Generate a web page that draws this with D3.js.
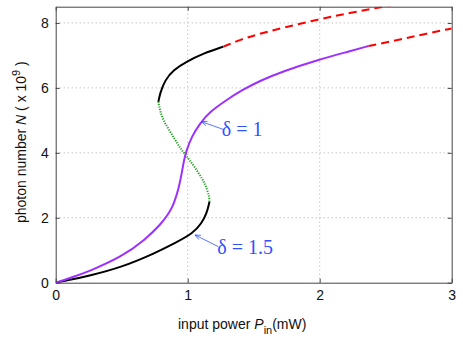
<!DOCTYPE html>
<html>
<head>
<meta charset="utf-8">
<script src="https://cdn.jsdelivr.net/npm/d3@7"></script>
<style>
  body { margin: 0; background: #fff; }
</style>
</head>
<body>
<div id="chart"></div>
<script>
// delta = 1.5 : stable low branch, unstable middle branch, stable high branch
// (every segment listed with N rising)
const lowP15 = [0, 0.1, 0.247, 0.5, 0.752, 0.904, 1.04, 1.106, 1.144, 1.161, 1.165];
const lowN15 = [0, 0.08, 0.207, 0.475, 0.91, 1.22, 1.52, 1.83, 2.14, 2.42, 2.5];
const midP15 = [1.165, 1.164, 1.14, 1.118, 1.043, 0.99, 0.942, 0.905, 0.86, 0.815, 0.79, 0.778];
const midN15 = [2.5, 2.65, 2.95, 3.16, 3.62, 3.9, 4.15, 4.40, 4.70, 5.0, 5.3, 5.57];
const highP15 = [0.778, 0.79, 0.828, 0.891, 0.992, 1.118, 1.27];
const highN15 = [5.57, 5.83, 6.24, 6.55, 6.81, 7.06, 7.27];
const dashP15 = [1.27, 1.396, 1.52, 1.72, 1.99, 2.23, 2.51, 2.62];
const dashN15 = [7.27, 7.48, 7.64, 7.85, 8.11, 8.31, 8.52, 8.6];

// delta = 1 : single valued
const solidP1 = [0, 0.1, 0.247, 0.5, 0.677, 0.803, 0.853, 0.88, 0.904, 0.929, 0.955, 0.972,
                 0.992, 1.03, 1.093, 1.169, 1.295, 1.41, 1.548, 1.72, 1.99, 2.23, 2.37];
const solidN1 = [0, 0.13, 0.34, 0.80, 1.32, 1.83, 2.12, 2.30, 2.55, 2.86, 3.37, 3.78,
                 4.09, 4.50, 4.91, 5.27, 5.63, 5.93, 6.22, 6.51, 6.87, 7.13, 7.29];
const dashP1 = [2.37, 2.61, 2.785, 3.0];
const dashN1 = [7.29, 7.49, 7.65, 7.83];

const xTicks = [0, 1, 2, 3];
const yTicks = [0, 2, 4, 6, 8];

const width = 463, height = 340;
const margin = { top: 6.7, right: 11.3, bottom: 57.3, left: 55.7 };
const sans = '"Liberation Sans", Arial, sans-serif';
const serif = '"Liberation Serif", "Times New Roman", serif';

const x = d3.scaleLinear().domain([0, 3]).range([margin.left, width - margin.right]);
const y = d3.scaleLinear().domain([0, 8.5]).range([height - margin.bottom, margin.top]);

const svg = d3.select('#chart').append('svg')
  .attr('width', width)
  .attr('height', height);

svg.append('defs').append('clipPath').attr('id', 'clip')
  .append('rect')
  .attr('x', margin.left).attr('y', margin.top)
  .attr('width', x(3) - x(0)).attr('height', y(0) - y(8.5));

// grid
svg.append('g').selectAll('line').data(xTicks.slice(1, -1)).enter().append('line')
  .attr('x1', d => x(d)).attr('x2', d => x(d))
  .attr('y1', y(0)).attr('y2', y(8.5))
  .attr('stroke', '#aaa').attr('stroke-width', 1).attr('stroke-dasharray', '1,3');
svg.append('g').selectAll('line').data(yTicks.slice(1)).enter().append('line')
  .attr('x1', x(0)).attr('x2', x(3))
  .attr('y1', d => y(d)).attr('y2', d => y(d))
  .attr('stroke', '#aaa').attr('stroke-width', 1).attr('stroke-dasharray', '1,3');

// axes, box with inward ticks
const tick = 4;
const fmt = d3.format('d');
const xAxisB = d3.axisBottom(x).tickValues(xTicks).tickFormat(fmt).tickSizeInner(-tick).tickSizeOuter(0).tickPadding(7);
const xAxisT = d3.axisTop(x).tickValues(xTicks).tickSizeInner(-tick).tickSizeOuter(0).tickFormat('');
const yAxisL = d3.axisLeft(y).tickValues(yTicks).tickFormat(fmt).tickSizeInner(-tick).tickSizeOuter(0).tickPadding(7);
const yAxisR = d3.axisRight(y).tickValues(yTicks).tickSizeInner(-tick).tickSizeOuter(0).tickFormat('');

function styleAxis(g) {
  g.select('.domain').attr('stroke', '#444');
  g.selectAll('.tick line').attr('stroke', '#444');
  g.selectAll('.tick text').attr('font-size', 14).attr('fill', '#111')
    .attr('font-family', sans);
}
svg.append('g').attr('transform', `translate(0,${y(0)})`).call(xAxisB).call(styleAxis);
svg.append('g').attr('transform', `translate(0,${y(8.5)})`).call(xAxisT).call(styleAxis);
svg.append('g').attr('transform', `translate(${x(0)},0)`).call(yAxisL).call(styleAxis);
svg.append('g').attr('transform', `translate(${x(3)},0)`).call(yAxisR).call(styleAxis);

// curves (basis smoothing evens out reading error in the points)
const line = d3.line()
  .x(d => x(d[0]))
  .y(d => y(d[1]))
  .curve(d3.curveBasis);

const series = [
  { P: lowP15, N: lowN15, color: '#000', dash: null },
  { P: highP15, N: highN15, color: '#000', dash: null },
  { P: midP15, N: midN15, color: '#1f9e1f', dash: '1.2,1.3' },
  { P: dashP15, N: dashN15, color: '#ff0000', dash: '8,5' },
  { P: solidP1, N: solidN1, color: '#9d30ff', dash: null },
  { P: dashP1, N: dashN1, color: '#ff0000', dash: '8,5' },
];

const plot = svg.append('g').attr('clip-path', 'url(#clip)');
plot.selectAll('path').data(series).enter().append('path')
  .attr('d', s => line(s.P.map((p, i) => [p, s.N[i]])))
  .attr('fill', 'none')
  .attr('stroke', s => s.color)
  .attr('stroke-width', 2)
  .attr('stroke-dasharray', s => s.dash);

// annotations
const blue = '#3050ff';
const notes = [
  { label: 'δ = 1', tx: 1.258, ty: 4.52, hx: 1.105, hy: 4.96, ax: 1.27, ay: 4.72 },
  { label: 'δ = 1.5', tx: 1.224, ty: 0.875, hx: 1.055, hy: 1.47, ax: 1.232, ay: 1.11 },
];
notes.forEach(n => {
  const x1 = x(n.hx), y1 = y(n.hy), x2 = x(n.ax), y2 = y(n.ay);
  const a = Math.atan2(y2 - y1, x2 - x1);
  svg.append('line')
    .attr('x1', x1).attr('y1', y1).attr('x2', x2).attr('y2', y2)
    .attr('stroke', blue).attr('stroke-width', 0.8);
  const len = 6, spread = 0.4;
  svg.append('path')
    .attr('d', `M${x1 + len * Math.cos(a - spread)},${y1 + len * Math.sin(a - spread)}
                L${x1},${y1}
                L${x1 + len * Math.cos(a + spread)},${y1 + len * Math.sin(a + spread)}`)
    .attr('fill', 'none').attr('stroke', blue).attr('stroke-width', 0.8);
  svg.append('text')
    .attr('x', x(n.tx)).attr('y', y(n.ty))
    .style('font-family', serif)
    .attr('font-size', 20)
    .attr('fill', blue)
    .text(n.label);
});

// axis labels
const xl = svg.append('text')
  .attr('x', 178).attr('y', 329)
  .style('font-family', sans)
  .attr('font-size', 14).attr('fill', '#111');
xl.append('tspan').text('input power ');
xl.append('tspan').attr('font-style', 'italic').text('P');
xl.append('tspan').attr('font-size', 11).attr('dy', 5).text('in');
xl.append('tspan').attr('dy', -5).text('(mW)');

const yl = svg.append('text')
  .attr('transform', 'translate(25.5,223) rotate(-90)')
  .style('font-family', sans)
  .attr('font-size', 14).attr('fill', '#111');
yl.append('tspan').text('photon number ');
yl.append('tspan').attr('font-style', 'italic').text('N');
yl.append('tspan').text(' ( x 10');
yl.append('tspan').attr('font-size', 11).attr('dy', -6).text('9');
yl.append('tspan').attr('dy', 6).text(' )');
</script>
</body>
</html>
